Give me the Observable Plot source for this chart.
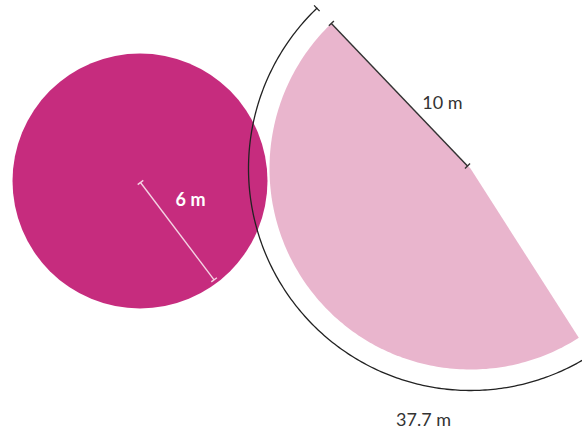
<!DOCTYPE html>
<html><head><meta charset="utf-8">
<script src="https://cdn.jsdelivr.net/npm/d3@7"></script>
<script src="https://cdn.jsdelivr.net/npm/@observablehq/plot@0.6"></script>
<style>body{margin:0;background:#fff} svg{display:block}</style>
</head><body><div id="chart"></div>
<script>
// values
const shapeNames = ["circle", "sector"];
const radiiMeters = [6, 10];
const arcMeters = [37.7];
const labels = ["6 m", "10 m", "37.7 m"];

// layout (pixel space, identity scales)
const circleC = [139.5, 180.5], circleR = 127.5;
const sectorC = [470, 168], sectorR = 201;
const angStart = 57.4, angEnd = 226.2; // degrees, screen orientation
const arcR = 222;
const rad = d => d * Math.PI / 180;
const pt = (c, r, a) => ({x: c[0] + r * Math.cos(rad(a)), y: c[1] + r * Math.sin(rad(a))});

// sector polygon
const sectorPts = [{x: sectorC[0], y: sectorC[1]}];
for (let a = angStart; a <= angEnd + 1e-9; a += (angEnd - angStart) / 180) sectorPts.push(pt(sectorC, sectorR, a));
sectorPts.push({x: sectorC[0], y: sectorC[1]});

// outer arc
const arcPts = [];
for (let a = angStart; a <= angEnd + 1e-9; a += (angEnd - angStart) / 240) arcPts.push(pt(sectorC, arcR, a));
const arcTicks = [angStart, angEnd].map(a => {
  const p = pt(sectorC, arcR - 4, a), q = pt(sectorC, arcR + 4, a);
  return {x1: p.x, y1: p.y, x2: q.x, y2: q.y};
});

// dimension segment with perpendicular end ticks
function dim(p, q, h) {
  const dx = q.x - p.x, dy = q.y - p.y, L = Math.hypot(dx, dy);
  const nx = -dy / L * h, ny = dx / L * h;
  return [
    {x1: p.x, y1: p.y, x2: q.x, y2: q.y},
    {x1: p.x - nx, y1: p.y - ny, x2: p.x + nx, y2: p.y + ny},
    {x1: q.x - nx, y1: q.y - ny, x2: q.x + nx, y2: q.y + ny}
  ];
}
const sixStart = {x: 140, y: 182};
const sixEnd = pt([140, 182], 122, 52.9);
const dimSix = dim(sixStart, sixEnd, 3.5);
const tenStart = pt(sectorC, sectorR, angEnd);
const dimTen = dim(tenStart, {x: 467, y: 165.5}, 3.5);

const textData = [
  {x: 190, y: 200, t: labels[0], fill: "#ffffff", w: "bold"},
  {x: 442, y: 103, t: labels[1], fill: "#333333", w: "normal"},
  {x: 423, y: 420, t: labels[2], fill: "#333333", w: "normal"}
];

const chart = Plot.plot({
  width: 582, height: 433,
  margin: 0,
  x: {domain: [0, 582], range: [0, 582], axis: null},
  y: {domain: [0, 433], range: [0, 433], axis: null},
  style: {background: "#fff", fontFamily: "Lato, sans-serif"},
  marks: [
    Plot.dot([{x: circleC[0], y: circleC[1]}], {x: "x", y: "y", r: circleR, fill: "#c62c7e", stroke: "none"}),
    Plot.line(sectorPts, {x: "x", y: "y", fill: "#e9b5cd", stroke: "none", curve: "linear"}),
    Plot.line(arcPts, {x: "x", y: "y", stroke: "#222", strokeWidth: 1.3}),
    Plot.link(arcTicks, {x1: "x1", y1: "y1", x2: "x2", y2: "y2", stroke: "#222", strokeWidth: 1.3}),
    Plot.link(dimSix, {x1: "x1", y1: "y1", x2: "x2", y2: "y2", stroke: "#f4d3e3", strokeWidth: 1.4}),
    Plot.link(dimTen, {x1: "x1", y1: "y1", x2: "x2", y2: "y2", stroke: "#333", strokeWidth: 1.4}),
    ...textData.map(d => Plot.text([d], {x: "x", y: "y", text: "t", fill: d.fill, fontSize: 18, fontWeight: d.w}))
  ]
});
document.getElementById("chart").append(chart);
</script>
</body></html>
